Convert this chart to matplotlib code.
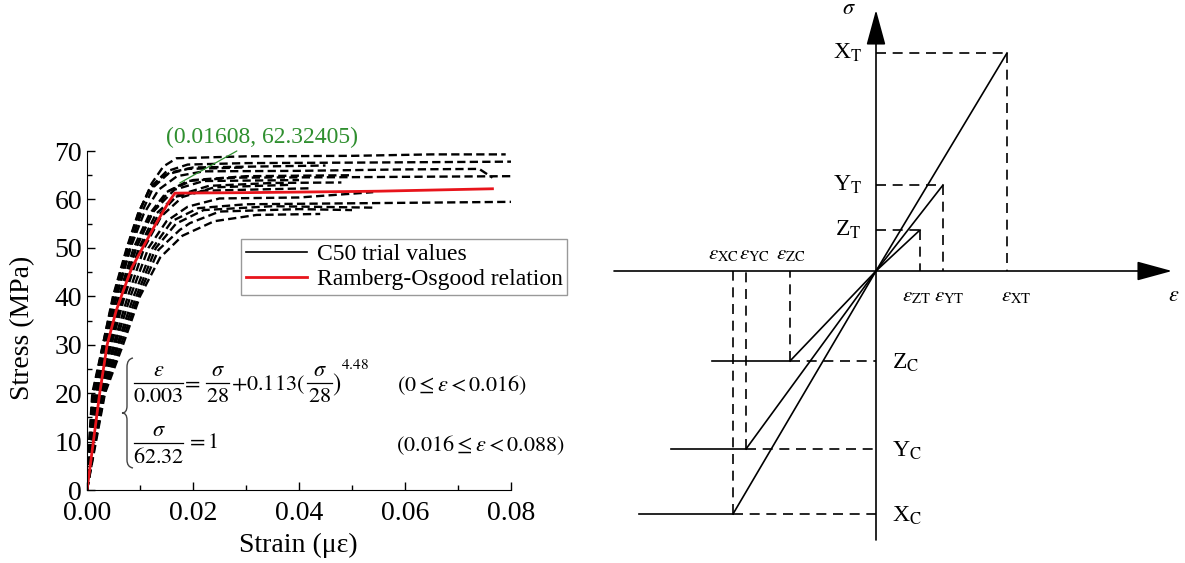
import numpy as np
import matplotlib.pyplot as plt
from matplotlib.lines import Line2D
from matplotlib.path import Path
from matplotlib.patches import PathPatch

plt.rcParams['font.family'] = ['Liberation Serif', 'DejaVu Serif']
plt.rcParams['mathtext.fontset'] = 'stix'

# C50 trial curves (strain, stress)
trial_strain = [
    [0, .0008, .0015, .0032, .0055, .0081, .0103, .0122, .0144, .0169, .03, .05, .065, .079],
    [0, .0006, .0012, .003, .005, .0076, .0098, .012, .015, .019, .03, .05, .08],
    [0, .0007, .0016, .0035, .0056, .0082, .0107, .0135, .017, .022, .04, .06, .074, .0765],
    [0, .0009, .0019, .0038, .006, .0088, .0118, .015, .019, .028, .05, .08],
    [0, .0005, .0011, .0031, .0052, .0079, .0102, .0125, .0155, .02, .045],
    [0, .001, .0022, .0042, .0065, .0093, .0122, .0155, .02, .03, .05],
    [0, .0008, .0018, .004, .0063, .0092, .0125, .0165, .022, .04],
    [0, .0011, .0024, .0046, .0071, .0101, .0133, .017, .023, .035, .048],
    [0, .0012, .0026, .005, .0077, .0108, .014, .018, .024, .038],
    [0, .0013, .0028, .0053, .0082, .0116, .015, .019, .025, .04, .054],
    [0, .0014, .003, .0057, .0088, .0124, .016, .021, .03, .05, .08],
    [0, .0015, .0031, .006, .0093, .013, .0168, .022, .035, .054],
    [0, .0016, .0033, .0064, .0097, .0135, .0175, .0194, .025, .04, .05],
    [0, .0017, .0034, .0068, .01, .0138, .018, .024, .032, .044],
    [0, .0004, .001, .003, .0049, .0075, .0096, .0118, .0145, .019, .03],
    [0, .0011, .0021, .0044, .0068, .0098, .013, .0165, .022, .042],
]
trial_stress = [
    [0, 10, 20, 30, 40, 49.6, 58.5, 63.3, 66.8, 68.5, 68.9, 69, 69.3, 69.3],
    [0, 10, 20, 30, 40, 50, 57.5, 62.5, 65.8, 67.2, 67.5, 67.6, 67.8],
    [0, 10, 20, 30, 40, 50, 57, 62, 64.8, 65.8, 65.9, 66.2, 66.3, 64.5],
    [0, 10, 20, 30, 40, 50, 57, 61.5, 63.8, 64.5, 64.6, 64.8],
    [0, 10, 20, 30, 40, 50, 57, 62.5, 65.5, 66.6, 67],
    [0, 10, 20, 30, 40, 50, 57, 61.8, 64, 64.8, 65],
    [0, 10, 20, 30, 40, 50, 57.5, 62, 63.8, 64],
    [0, 10, 20, 30, 40, 50, 56.5, 60.8, 62.8, 63.4, 63.5],
    [0, 10, 20, 30, 40, 50, 56.5, 60.5, 62.5, 63],
    [0, 10, 20, 30, 40, 50, 55.5, 58.5, 60.2, 60.4, 61.5],
    [0, 10, 20, 30, 40, 50, 55.5, 58.2, 59, 59.2, 59.5],
    [0, 10, 20, 30, 40, 50, 55, 57.8, 58.6, 58.3],
    [0, 10, 20, 30, 40, 49.6, 53.7, 55.1, 57.5, 58, 57.8],
    [0, 10, 20, 30, 40, 48, 52.5, 55.5, 56.8, 57],
    [0, 10, 20, 30, 40, 50, 57, 62, 65, 66.3, 66.6],
    [0, 10, 20, 30, 40, 50, 57, 60.5, 61.8, 62.3],
]

# Ramberg-Osgood relation as drawn
ro_strain = [0, .0012, .0024, .0038, .0055, .0068, .0085, .0105, .0126, .0142, .0155, .0166, .03, .055, .0765]
ro_stress = [0, 10, 20, 30, 37, 41, 46, 50, 54.2, 57.2, 59.6, 61.3, 61.4, 61.7, 62.2]

peak_point = (0.01608, 62.32405)

# schematic: tension (T) and compression (C) limits
tens_labels = ['X', 'Y', 'Z']
tens_strain = [131, 67, 44]
tens_stress = [218, 86, 41]
comp_strain = [-143, -130, -86]
comp_stress = [-243, -178, -90]
comp_end = [-237, -205, -164]

W, H = 1185, 563
fig = plt.figure(figsize=(W / 100, H / 100), dpi=100)


def px(x, y):
    return x / W, 1 - y / H


# ---------- left: stress-strain curves ----------
ax = fig.add_axes([87/W, 73/H, 424/W, 339/H])
for s, st in zip(trial_strain, trial_stress):
    ax.plot(s, st, color='k', lw=1.7, dashes=(3.5, 1.8))
ax.plot(ro_strain, ro_stress, color='#e8141b', lw=2)

ax.set_xlim(0, 0.08)
ax.set_ylim(0, 70)
ax.set_xticks(np.arange(0, 0.081, 0.02))
ax.set_xticks(np.arange(0.01, 0.08, 0.02), minor=True)
ax.set_yticks(np.arange(0, 71, 10))
ax.set_yticks(np.arange(5, 70, 10), minor=True)
ax.xaxis.set_major_formatter(plt.FuncFormatter(lambda v, p: '%.2f' % v))
ax.tick_params(direction='in', which='major', length=6, labelsize=20, width=1)
ax.tick_params(axis='x', which='major', pad=8)
ax.tick_params(direction='in', which='minor', length=3.5, width=1)
ax.spines['top'].set_visible(False)
ax.spines['right'].set_visible(False)
ax.set_xlabel('Strain (με)', fontsize=20)
ax.set_ylabel('Stress (MPa)', fontsize=20)
ax.xaxis.set_label_coords(0.498, -0.125)
ax.yaxis.set_label_coords(-0.123, 0.478)

green = '#2f8f2f'
ax.annotate('(%.5f, %.5f)' % peak_point, xy=(0.0175, 63.4), xytext=(0.033, 72.9),
            ha='center', va='center', color=green, fontsize=17, annotation_clip=False,
            arrowprops=dict(arrowstyle='-', color=green, lw=0.9, shrinkA=1, shrinkB=0))

handles = [Line2D([], [], color='k', lw=1.2), Line2D([], [], color='#e8141b', lw=2)]
leg = fig.legend(handles, ['C50 trial values', 'Ramberg-Osgood relation'],
                 loc='upper left', bbox_to_anchor=px(241, 239),
                 fontsize=17, frameon=True, fancybox=False, handlelength=2.6,
                 borderpad=0.2, labelspacing=0.15, handletextpad=0.4, borderaxespad=0)
leg.get_frame().set_edgecolor('#808080')
leg.get_frame().set_linewidth(1)


# equations, built piece by piece
def frac(x0, x1, ybar, num, den, size=16):
    fig.add_artist(Line2D([x0/W, x1/W], [1 - ybar/H] * 2, color='k', lw=0.9))
    xc = (x0 + x1) / 2
    fig.text(*px(xc, ybar - 11), num, fontsize=size, ha='center', va='center')
    fig.text(*px(xc, ybar + 15), den, fontsize=size, ha='center', va='center')


def mtext(x, y, s, size=16, ha='left'):
    fig.text(*px(x, y), s, fontsize=size, ha=ha, va='center')


brace = [(133, 358), (127, 359), (127, 367), (127, 406), (127, 413), (122, 413),
         (127, 413), (127, 420), (127, 460), (127, 467), (133, 468)]
codes = [Path.MOVETO, Path.CURVE3, Path.CURVE3, Path.LINETO, Path.CURVE3, Path.CURVE3,
         Path.CURVE3, Path.CURVE3, Path.LINETO, Path.CURVE3, Path.CURVE3]
fig.add_artist(PathPatch(Path([px(*p) for p in brace], codes), fill=False,
                         lw=1, edgecolor='#444444', transform=fig.transFigure))

frac(134, 183, 383, r'$\varepsilon$', r'$0.003$')
mtext(191, 384, r'$=$', ha='center')
frac(206, 229, 383, r'$\sigma$', r'$28$')
mtext(231, 385, r'$+0.113($')
frac(307, 332, 383, r'$\sigma$', r'$28$')
mtext(332, 385, r'$)$', size=18)
mtext(341, 365, r'$4.48$', size=11)
mtext(397, 385, r'$(0\leq\varepsilon<0.016)$')

frac(134, 183, 443, r'$\sigma$', r'$62.32$')
mtext(186, 444, r'$=1$')
mtext(396, 445, r'$(0.016\leq\varepsilon<0.088)$')

# ---------- right: schematic ----------
ox, oy = 876, 271
ax2 = fig.add_axes([600/W, 0, 585/W, 1])
ax2.set_xlim(600 - ox, W - ox)
ax2.set_ylim(oy - H, oy)
ax2.axis('off')

dash = dict(color='k', lw=1.2, dashes=(6, 4))
solid = dict(color='k', lw=1.2)
arrow = dict(arrowstyle='-|>,head_length=1.1,head_width=0.3', color='k',
             lw=1.2, mutation_scale=20, shrinkA=0, shrinkB=0)

ax2.annotate('', xy=(1172 - ox, 0), xytext=(614 - ox, 0), arrowprops=arrow)
ax2.annotate('', xy=(0, oy - 10), xytext=(0, oy - 540), arrowprops=arrow)

for lab, e, s in zip(tens_labels, tens_strain, tens_stress):
    ax2.plot([0, e], [0, s], **solid)
    ax2.plot([0, e], [s, s], **dash)
    ax2.plot([e, e], [s, 0], **dash)
    ax2.text(-14, s, lab + r'$_{\mathrm{T}}$', fontsize=17, ha='right', va='center')

for lab, e, s, end in zip(tens_labels, comp_strain, comp_stress, comp_end):
    ax2.plot([0, e], [0, s], **solid)
    ax2.plot([end, e], [s, s], **solid)
    ax2.plot([e, 0], [s, s], **dash)
    ax2.plot([e, e], [s, 0], **dash)
    ax2.text(16, s - 2, lab + r'$_{\mathrm{C}}$', fontsize=17, ha='left', va='center')

ax2.text(-20, 262, r'$\sigma$', fontsize=16, ha='right', va='center')
ax2.text(298, -26, r'$\varepsilon$', fontsize=16, ha='center', va='center')

for name, x in [('XT', 1016), ('YT', 949), ('ZT', 916)]:
    ax2.text(x - ox, -26, r'$\varepsilon_{\mathrm{%s}}$' % name, fontsize=15,
             ha='center', va='center')
for name, x in [('XC', 724), ('YC', 755), ('ZC', 791)]:
    ax2.text(x - ox, 16, r'$\varepsilon_{\mathrm{%s}}$' % name, fontsize=15,
             ha='center', va='center')

fig.savefig('out.png', dpi=100)
